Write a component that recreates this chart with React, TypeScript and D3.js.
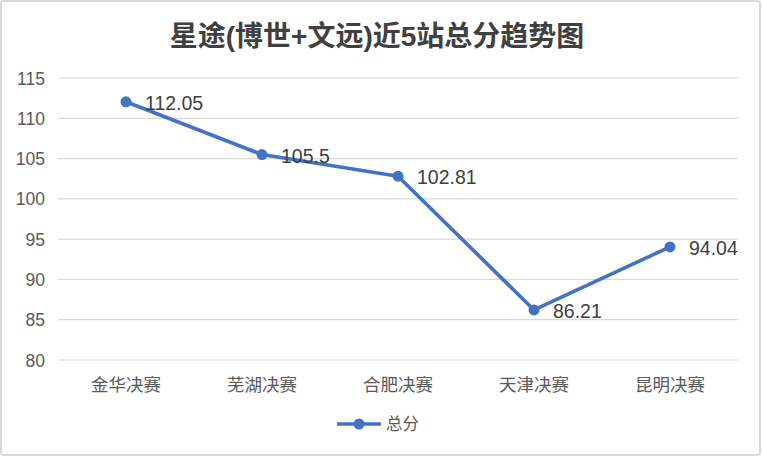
import { useEffect, useRef } from "react";
import * as d3 from "d3";

const categories = ["金华决赛", "芜湖决赛", "合肥决赛", "天津决赛", "昆明决赛"];
const totals = [112.05, 105.5, 102.81, 86.21, 94.04];
const yTicks = [80, 85, 90, 95, 100, 105, 110, 115];
const seriesName = "总分";
const title = "星途(博世+文远)近5站总分趋势图";

const W = 762;
const H = 458;
const BLUE = "#4472c4";
const FONT = "'Liberation Sans', Arial, 'Noto Sans CJK SC', sans-serif";

export default function App() {
  const svgRef = useRef<SVGSVGElement | null>(null);

  useEffect(() => {
    if (!svgRef.current) return;
    const svg = d3.select(svgRef.current);
    svg.selectAll("*").remove();

    svg.append("rect")
      .attr("x", 1).attr("y", 1)
      .attr("width", W - 3).attr("height", H - 4)
      .attr("rx", 3)
      .attr("fill", "#fff")
      .attr("stroke", "#d9d9d9")
      .attr("stroke-width", 2);

    svg.append("text")
      .attr("x", 377).attr("y", 46)
      .attr("text-anchor", "middle")
      .attr("font-size", 28)
      .attr("font-weight", 700)
      .attr("fill", "#404040")
      .attr("font-family", FONT)
      .text(title);

    const x = d3.scaleBand<string>().domain(categories).range([58, 738]);
    const y = d3.scaleLinear().domain([80, 115]).range([360, 78]);

    // grid
    svg.append("g")
      .selectAll("line")
      .data(yTicks)
      .join("line")
      .attr("x1", 58).attr("x2", 738)
      .attr("y1", (d) => y(d)).attr("y2", (d) => y(d))
      .attr("stroke", "#d9d9d9")
      .attr("stroke-width", 1.2);

    svg.append("g")
      .selectAll("text")
      .data(yTicks)
      .join("text")
      .attr("x", 45)
      .attr("y", (d) => y(d) + 6.5)
      .attr("text-anchor", "end")
      .attr("font-size", 17.5)
      .attr("fill", "#595959")
      .attr("font-family", FONT)
      .text((d) => String(d));

    svg.append("g")
      .selectAll("text")
      .data(categories)
      .join("text")
      .attr("x", (d) => (x(d) ?? 0) + x.bandwidth() / 2)
      .attr("y", 391)
      .attr("text-anchor", "middle")
      .attr("font-size", 17.5)
      .attr("fill", "#595959")
      .attr("font-family", FONT)
      .text((d) => d);

    const pts = categories.map((c, i) => [(x(c) ?? 0) + x.bandwidth() / 2, y(totals[i])] as [number, number]);

    svg.append("path")
      .attr("d", d3.line()(pts))
      .attr("fill", "none")
      .attr("stroke", BLUE)
      .attr("stroke-width", 3.6)
      .attr("stroke-linejoin", "round");

    svg.append("g")
      .selectAll("circle")
      .data(pts)
      .join("circle")
      .attr("cx", (d) => d[0]).attr("cy", (d) => d[1])
      .attr("r", 5.5)
      .attr("fill", BLUE);

    svg.append("g")
      .selectAll("text")
      .data(totals)
      .join("text")
      .attr("x", (_d, i) => pts[i][0] + 19)
      .attr("y", (_d, i) => pts[i][1] + 8)
      .attr("font-size", 19.5)
      .attr("fill", "#404040")
      .attr("font-family", FONT)
      .text((d) => String(d));

    // legend
    const lg = svg.append("g");
    lg.append("line")
      .attr("x1", 337).attr("x2", 381)
      .attr("y1", 424).attr("y2", 424)
      .attr("stroke", BLUE).attr("stroke-width", 3.6);
    lg.append("circle").attr("cx", 359).attr("cy", 424).attr("r", 5.5).attr("fill", BLUE);
    lg.append("text")
      .attr("x", 386).attr("y", 430)
      .attr("font-size", 16.5)
      .attr("fill", "#595959")
      .attr("font-family", FONT)
      .text(seriesName);
  }, []);

  return (
    <svg
      ref={svgRef}
      width={W}
      height={H}
      style={{ position: "fixed", left: 0, top: 0, background: "#fff" }}
    />
  );
}
